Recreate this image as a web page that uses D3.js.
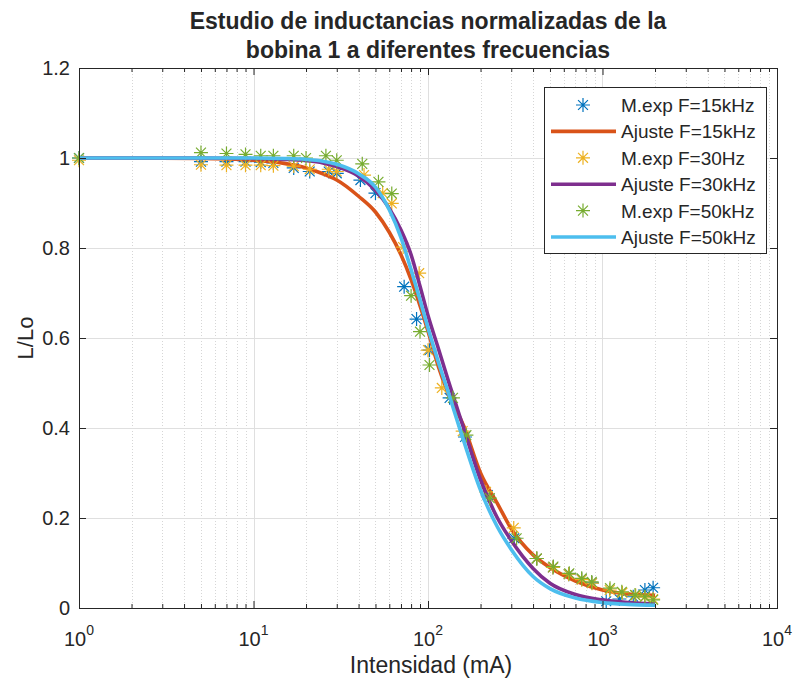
<!DOCTYPE html>
<html>
<head>
<meta charset="utf-8">
<script src="https://cdn.jsdelivr.net/npm/d3@7"></script>
<style>
  body { margin: 0; background: #fff; }
  text { font-family: "Liberation Sans", Arial, Helvetica, sans-serif; fill: #262626; }
</style>
</head>
<body>
<svg id="chart" width="801" height="679"></svg>
<script>
// Measured normalized inductance L/Lo versus current (mA), coil 1
const currents15 = [1, 5, 7, 9, 11, 13, 17, 21, 27, 30, 41, 50, 73, 86, 102, 133, 163, 220, 312, 420, 520, 640, 760, 870, 1050, 1250, 1500, 1750, 1950];
const ratio15    = [1.000, 0.992, 0.992, 0.992, 0.991, 0.989, 0.978, 0.970, 0.970, 0.966, 0.951, 0.922, 0.714, 0.642, 0.573, 0.467, 0.380, 0.251, 0.155, 0.110, 0.090, 0.075, 0.064, 0.056, 0.015, 0.020, 0.025, 0.040, 0.045];

const currents30 = [1, 5, 7, 9, 11, 13, 17, 21, 27, 30, 43, 55, 62, 72, 89, 100, 120, 158, 215, 310, 420, 520, 640, 760, 870, 1100, 1300, 1550, 1750, 1950];
const ratio30    = [0.995, 0.985, 0.984, 0.984, 0.984, 0.983, 0.982, 0.975, 0.975, 0.970, 0.962, 0.922, 0.899, 0.802, 0.744, 0.573, 0.489, 0.393, 0.258, 0.178, 0.110, 0.090, 0.075, 0.063, 0.055, 0.040, 0.034, 0.028, 0.024, 0.020];

const currents50 = [1, 5, 7, 9, 11, 13, 17, 20, 26, 30, 42, 52, 62, 80, 90, 102, 139, 166, 226, 322, 420, 523, 645, 760, 867, 1104, 1290, 1536, 1750, 1950];
const ratio50    = [1.000, 1.012, 1.010, 1.008, 1.005, 1.005, 1.005, 1.000, 1.005, 0.995, 0.987, 0.947, 0.921, 0.694, 0.614, 0.540, 0.467, 0.384, 0.244, 0.155, 0.110, 0.092, 0.077, 0.066, 0.058, 0.044, 0.036, 0.029, 0.025, 0.018];

// Fitted curves sampled along the current axis
const fitCurrents = [1, 5, 10, 15, 20, 25, 30, 40, 50, 60, 70, 80, 90, 100, 115, 130, 160, 200, 250, 300, 400, 500, 700, 1000, 1400, 2000];
const fit15 = [1.000, 0.999, 0.995, 0.988, 0.978, 0.965, 0.951, 0.915, 0.880, 0.835, 0.785, 0.730, 0.672, 0.615, 0.535, 0.478, 0.405, 0.300, 0.232, 0.176, 0.118, 0.090, 0.060, 0.040, 0.031, 0.028];
const fit30 = [1.000, 1.000, 0.999, 0.997, 0.994, 0.989, 0.981, 0.960, 0.928, 0.888, 0.840, 0.785, 0.715, 0.650, 0.575, 0.508, 0.400, 0.285, 0.200, 0.150, 0.088, 0.055, 0.030, 0.018, 0.012, 0.009];
const fit50 = [1.000, 1.000, 1.000, 0.999, 0.997, 0.993, 0.986, 0.965, 0.935, 0.885, 0.823, 0.752, 0.685, 0.622, 0.545, 0.482, 0.372, 0.262, 0.180, 0.130, 0.070, 0.043, 0.022, 0.012, 0.008, 0.006];

const legendLabels = ["M.exp F=15kHz", "Ajuste F=15kHz", "M.exp F=30Hz", "Ajuste F=30kHz", "M.exp F=50kHz", "Ajuste F=50kHz"];
const xTickExponents = [0, 1, 2, 3, 4];
const yTicks = [0, 0.2, 0.4, 0.6, 0.8, 1, 1.2];
const titleLines = ["Estudio de inductancias normalizadas de la", "bobina 1 a diferentes frecuencias"];

const colors = { blue: "#0072BD", orange: "#D95319", yellow: "#EDB120", purple: "#7E2F8E", green: "#77AC30", cyan: "#4DBEEE" };
const axisColor = "#262626";

const svg = d3.select("#chart");
const plotLeft = 79, plotRight = 777, plotTop = 68, plotBottom = 608;

const x = d3.scaleLog().domain([1, 1e4]).range([plotLeft, plotRight]);
const y = d3.scaleLinear().domain([0, 1.2]).range([plotBottom, plotTop]);

const majorX = xTickExponents.map(e => Math.pow(10, e));
const minorX = [];
for (let e = 0; e < 4; e++) for (let k = 2; k <= 9; k++) minorX.push(k * Math.pow(10, e));

// grid
const grid = svg.append("g");
grid.selectAll("line.minor").data(minorX).join("line")
  .attr("x1", d => Math.round(x(d)) + 0.5).attr("x2", d => Math.round(x(d)) + 0.5)
  .attr("y1", plotTop).attr("y2", plotBottom)
  .attr("stroke", "#d6d6d6").attr("stroke-width", 1).attr("stroke-dasharray", "1,2");
grid.selectAll("line.vmaj").data(majorX).join("line")
  .attr("x1", d => Math.round(x(d)) + 0.5).attr("x2", d => Math.round(x(d)) + 0.5)
  .attr("y1", plotTop).attr("y2", plotBottom)
  .attr("stroke", "#dfdfdf").attr("stroke-width", 1);
grid.selectAll("line.hmaj").data(yTicks).join("line")
  .attr("x1", plotLeft).attr("x2", plotRight)
  .attr("y1", d => Math.round(y(d)) + 0.5).attr("y2", d => Math.round(y(d)) + 0.5)
  .attr("stroke", "#dfdfdf").attr("stroke-width", 1);

// series drawing helpers
function asterisk(r) {
  const a = r * Math.SQRT1_2;
  return `M${-r},0L${r},0M0,${-r}L0,${r}M${-a},${-a}L${a},${a}M${-a},${a}L${a},${-a}`;
}
const plot = svg.append("g");
function drawPoints(xs, ys, color) {
  plot.append("g").selectAll("path").data(xs.map((d, i) => [d, ys[i]])).join("path")
    .attr("transform", d => `translate(${x(d[0])},${y(d[1])})`)
    .attr("d", asterisk(7))
    .attr("fill", "none").attr("stroke", color).attr("stroke-width", 1.2);
}
const line = d3.line().x(d => x(d[0])).y(d => y(d[1])).curve(d3.curveMonotoneX);
function drawFit(xs, ys, color) {
  plot.append("path").datum(xs.map((d, i) => [d, ys[i]]))
    .attr("d", line).attr("fill", "none").attr("stroke", color)
    .attr("stroke-width", 3.6).attr("stroke-linejoin", "round");
}
drawPoints(currents15, ratio15, colors.blue);
drawFit(fitCurrents, fit15, colors.orange);
drawPoints(currents30, ratio30, colors.yellow);
drawFit(fitCurrents, fit30, colors.purple);
drawPoints(currents50, ratio50, colors.green);
drawFit(fitCurrents, fit50, colors.cyan);

// axes (ticks point inward)
function styleAxis(g) {
  g.select(".domain").remove();
  g.selectAll(".tick line").attr("stroke", axisColor);
}
svg.append("g").attr("transform", `translate(0,${plotBottom})`)
  .call(d3.axisBottom(x).tickValues(majorX).tickSize(-7).tickFormat("")).call(styleAxis);
svg.append("g").attr("transform", `translate(0,${plotBottom})`)
  .call(d3.axisBottom(x).tickValues(minorX).tickSize(-4).tickFormat("")).call(styleAxis);
svg.append("g").attr("transform", `translate(0,${plotTop})`)
  .call(d3.axisTop(x).tickValues(majorX).tickSize(-7).tickFormat("")).call(styleAxis);
svg.append("g").attr("transform", `translate(0,${plotTop})`)
  .call(d3.axisTop(x).tickValues(minorX).tickSize(-4).tickFormat("")).call(styleAxis);
svg.append("g").attr("transform", `translate(${plotLeft},0)`)
  .call(d3.axisLeft(y).tickValues(yTicks).tickSize(-7).tickFormat("")).call(styleAxis);
svg.append("g").attr("transform", `translate(${plotRight},0)`)
  .call(d3.axisRight(y).tickValues(yTicks).tickSize(-7).tickFormat("")).call(styleAxis);

svg.append("rect").attr("x", plotLeft + 0.5).attr("y", plotTop + 0.5)
  .attr("width", plotRight - plotLeft).attr("height", plotBottom - plotTop)
  .attr("fill", "none").attr("stroke", axisColor).attr("stroke-width", 1);

// tick labels
const fmt = d3.format("~g");
svg.append("g").selectAll("text").data(yTicks).join("text")
  .attr("x", plotLeft - 9).attr("y", d => y(d) + 7)
  .attr("text-anchor", "end").attr("font-size", 20).text(d => fmt(d));

const xl = svg.append("g").selectAll("text").data(xTickExponents).join("text")
  .attr("x", d => x(Math.pow(10, d))).attr("y", 646)
  .attr("text-anchor", "middle").attr("font-size", 20);
xl.append("tspan").text("10");
xl.append("tspan").attr("font-size", 14).attr("dy", -11).text(d => d);

// axis titles
svg.append("text").attr("x", (plotLeft + plotRight) / 2 + 3).attr("y", 673)
  .attr("text-anchor", "middle").attr("font-size", 23).text("Intensidad (mA)");
svg.append("text").attr("transform", `translate(33,${(plotTop + plotBottom) / 2}) rotate(-90)`)
  .attr("text-anchor", "middle").attr("font-size", 22).text("L/Lo");

// title
svg.append("g").selectAll("text").data(titleLines).join("text")
  .attr("x", (plotLeft + plotRight) / 2).attr("y", (d, i) => 29 + i * 29)
  .attr("text-anchor", "middle").attr("font-size", 23).attr("font-weight", "bold")
  .attr("fill", "#000").text(d => d);

// legend
const lg = svg.append("g");
lg.append("rect").attr("x", 544.5).attr("y", 87.5).attr("width", 222).attr("height", 166)
  .attr("fill", "#fff").attr("stroke", axisColor).attr("stroke-width", 1);
const legendItems = [
  { type: "point", color: colors.blue },
  { type: "line", color: colors.orange },
  { type: "point", color: colors.yellow },
  { type: "line", color: colors.purple },
  { type: "point", color: colors.green },
  { type: "line", color: colors.cyan }
];
legendItems.forEach((item, i) => {
  const cy = 105 + i * 26.4;
  if (item.type === "point") {
    lg.append("path").attr("transform", `translate(583,${cy})`).attr("d", asterisk(7))
      .attr("fill", "none").attr("stroke", item.color).attr("stroke-width", 1.2);
  } else {
    lg.append("line").attr("x1", 551).attr("x2", 616).attr("y1", cy).attr("y2", cy)
      .attr("stroke", item.color).attr("stroke-width", 3.6);
  }
  lg.append("text").attr("x", 621).attr("y", cy + 7).attr("font-size", 19)
    .attr("fill", "#000").text(legendLabels[i]);
});
</script>
</body>
</html>
